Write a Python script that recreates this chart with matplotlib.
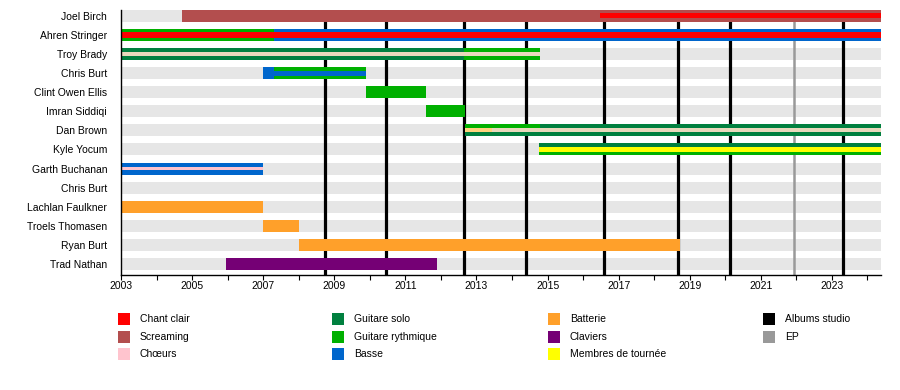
import matplotlib
matplotlib.use("Agg")
import matplotlib.pyplot as plt
from matplotlib.patches import Rectangle

plt.rcParams['font.family'] = ['Liberation Sans', 'DejaVu Sans']

# ---------------- data ----------------
members = ['Joel Birch', 'Ahren Stringer', 'Troy Brady', 'Chris Burt',
           'Clint Owen Ellis', 'Imran Siddiqi', 'Dan Brown', 'Kyle Yocum',
           'Garth Buchanan', 'Chris Burt', 'Lachlan Faulkner',
           'Troels Thomasen', 'Ryan Burt', 'Trad Nathan']

START = 2003.0
END = 2024.38

roles = ['Chant clair', 'Screaming', 'Chœurs', 'Guitare solo',
         'Guitare rythmique', 'Basse', 'Batterie', 'Claviers',
         'Membres de tournée']
role_colors = ['#FF0000', '#B34E4E', '#FFC4CE', '#00803F',
               '#00B000', '#0066CC', '#FFA02A', '#750075', '#FFFF00']

# segments: row index, role, start, end, layer
seg_row = [0, 0,
           1, 1, 1, 1,
           2, 2, 2,
           3, 3, 3,
           4, 5,
           6, 6, 6, 6, 6,
           7, 7, 7,
           8, 8,
           10, 11, 12, 13]
seg_role = ['Screaming', 'Chant clair',
            'Guitare rythmique', 'Basse', 'Basse', 'Chant clair',
            'Guitare solo', 'Guitare rythmique', 'Chœurs',
            'Basse', 'Guitare rythmique', 'Basse',
            'Guitare rythmique', 'Guitare rythmique',
            'Guitare solo', 'Guitare rythmique', 'Guitare solo', 'Tour+Chœurs', 'Chœurs',
            'Guitare rythmique', 'Guitare solo', 'Membres de tournée',
            'Basse', 'Chœurs',
            'Batterie', 'Batterie', 'Batterie', 'Claviers']
seg_start = [2004.72, 2016.48,
             2003.0, 2007.3, 2007.0, 2003.0,
             2003.0, 2012.65, 2003.0,
             2007.0, 2007.3, 2007.0,
             2009.9, 2011.57,
             2012.68, 2012.68, 2014.78, 2012.68, 2013.45,
             2014.75, 2014.75, 2014.75,
             2003.0, 2003.0,
             2003.0, 2007.0, 2008.02, 2005.95]
seg_end = [END, END,
           2007.3, END, 2007.3, END,
           2012.65, 2014.78, 2014.78,
           2007.3, 2009.9, 2009.9,
           2011.57, 2012.68,
           END, 2014.78, END, 2013.45, END,
           END, END, END,
           2007.0, 2007.0,
           2007.0, 2008.02, 2018.73, 2011.88]
seg_layer = ['full', 'mid',
             'full', 'full', 'mid', 'mid',
             'full', 'full', 'thin',
             'full', 'full', 'mid',
             'full', 'full',
             'full', 'top', 'top', 'thin', 'thin',
             'full', 'top', 'mid',
             'full', 'thin',
             'full', 'full', 'full', 'full']

album_dates = [2008.75, 2010.45, 2012.65, 2014.4, 2016.58, 2018.66, 2020.12, 2023.3]
ep_dates = [2021.92]

legend_labels = roles + ['Albums studio', 'EP']
legend_colors = role_colors + ['#000000', '#999999']

# extra display colours observed in the chart
display_color = dict(zip(roles, role_colors))
display_color['Chœurs_green'] = '#E9D9BC'
display_color['Tour+Chœurs'] = '#FFD47E'

# ---------------- figure ----------------
W, H = 900, 390
fig = plt.figure(figsize=(W / 100, H / 100), dpi=100)
ax = fig.add_axes([121 / W, 1 - 275 / H, (881 - 121) / W, (275 - 10) / H])

n = len(members)
bh = 0.63
ax.set_xlim(START, END)
ax.set_ylim(n - 1 + 0.58, -0.31)

# background rows
for i in range(n):
    ax.barh(i, END - START, left=START, height=bh, color='#E6E6E6', zorder=1, linewidth=0)

# album / EP lines
for d in album_dates:
    ax.axvline(d, color='black', lw=2.3, zorder=2)
for d in ep_dates:
    ax.axvline(d, color='#999999', lw=1.8, zorder=2)

layer_h = {'full': 1.0, 'mid': 0.42, 'thin': 0.32, 'top': 0.3}
layer_z = {'full': 3, 'mid': 5, 'thin': 5, 'top': 4}
for r, role, s, e, layer in zip(seg_row, seg_role, seg_start, seg_end, seg_layer):
    h = bh * layer_h[layer]
    y = r
    if layer == 'top':
        y = r - bh / 2 + h / 2
    col = display_color[role]
    if role == 'Chœurs' and r in (2, 6):
        col = display_color['Chœurs_green']
    ax.barh(y, e - s, left=s, height=h, color=col, zorder=layer_z[layer], linewidth=0)

ax.set_yticks(range(n))
ax.set_yticklabels(members, fontsize=7.5)
ax.tick_params(axis='y', length=0, pad=10)
ax.set_xticks(list(range(2003, 2024, 2)))
ax.set_xticklabels([str(y) for y in range(2003, 2024, 2)], fontsize=7.5)
ax.set_xticks(list(range(2003, 2025)), minor=True)
ax.tick_params(axis='x', which='both', length=3.5, width=0.8, pad=1)
for sp in ['top', 'right']:
    ax.spines[sp].set_visible(False)
ax.spines['left'].set_linewidth(1.0)
ax.spines['bottom'].set_linewidth(1.0)
ax.spines['left'].set_zorder(6)

# legend (manual, 4 columns)
col_x = [118, 332, 548, 763]
row_y = [319, 337, 354]
for k, (lab, c) in enumerate(zip(legend_labels, legend_colors)):
    ci, ri = k // 3, k % 3
    x0, yc = col_x[ci], row_y[ri]
    fig.add_artist(Rectangle((x0 / W, 1 - (yc + 6) / H), 12 / W, 12 / H,
                             transform=fig.transFigure, color=c, linewidth=0))
    fig.text((x0 + 22) / W, 1 - yc / H, lab, fontsize=7.5, va='center', ha='left')

fig.savefig('out.png', dpi=100)
